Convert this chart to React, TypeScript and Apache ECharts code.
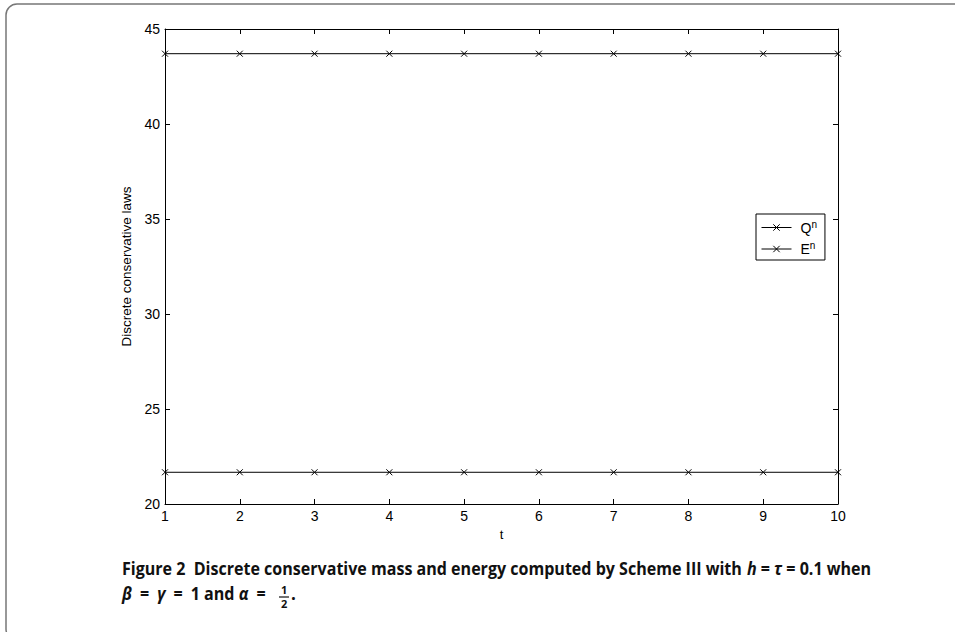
import React, { useEffect, useRef } from "react";
import * as echarts from "echarts";

const tValues = [1, 2, 3, 4, 5, 6, 7, 8, 9, 10];
const massQ = [21.67, 21.67, 21.67, 21.67, 21.67, 21.67, 21.67, 21.67, 21.67, 21.67];
const energyE = [43.7, 43.7, 43.7, 43.7, 43.7, 43.7, 43.7, 43.7, 43.7, 43.7];
const yTicks = [20, 25, 30, 35, 40, 45];

const CROSS = "path://M0,0L10,10M10,0L0,10";
const FONT = "Liberation Sans, Arial, Helvetica, sans-serif";
const CAP = "Open Sans, Noto Sans, sans-serif";
const SP = "\u2002";

export default function App() {
  const ref = useRef<HTMLDivElement>(null);
  useEffect(() => {
    if (!ref.current) return;
    const chart = echarts.init(ref.current, undefined, { renderer: "svg" });
    const mk = (name: string, vals: number[]) => ({
      name,
      type: "line",
      data: tValues.map((t, i) => [t, vals[i]]),
      symbol: CROSS,
      symbolSize: 6,
      showSymbol: true,
      lineStyle: { color: "#000", width: 1 },
      itemStyle: { color: "none", borderColor: "#000", borderWidth: 1 },
      emphasis: { disabled: true },
      z: 3,
    });
    const capRich = {
      i: { fontFamily: CAP, fontWeight: "bold", fontStyle: "italic", fontSize: 17, fill: "#111" },
    };
    chart.setOption({
      animation: false,
      backgroundColor: "#fff",
      grid: { left: 165, right: 117, top: 29, bottom: 128, containLabel: false },
      legend: {
        orient: "vertical",
        left: 756,
        top: 214,
        itemWidth: 30,
        itemHeight: 8,
        itemGap: 6,
        padding: [5, 8, 4, 5],
        borderColor: "#000",
        borderWidth: 1,
        backgroundColor: "#fff",
        lineStyle: { width: 1, color: "#000" },
        itemStyle: { color: "none", borderColor: "#000", borderWidth: 1 },
        data: ["Q", "E"],
        formatter: (n: string) => `{m|${n}}{s|n}`,
        textStyle: {
          rich: {
            m: { fontFamily: FONT, fontSize: 14, color: "#000", padding: [0, 0, 0, 4] },
            s: { fontFamily: FONT, fontSize: 10, color: "#000", verticalAlign: "top", padding: [0, 0, 7, 0] },
          },
        },
      },
      xAxis: [
        {
          type: "value",
          min: 1,
          max: 10,
          interval: 1,
          name: "t",
          nameLocation: "middle",
          nameGap: 21,
          nameTextStyle: { fontFamily: FONT, fontSize: 13, color: "#000" },
          axisLine: { lineStyle: { color: "#000", width: 1 } },
          axisTick: { inside: true, length: 5, lineStyle: { color: "#000" } },
          axisLabel: { fontFamily: FONT, fontSize: 14, color: "#000", margin: 5 },
          splitLine: { show: false },
        },
        {
          type: "value",
          position: "top",
          min: 1,
          max: 10,
          interval: 1,
          axisLine: { lineStyle: { color: "#000", width: 1 } },
          axisTick: { inside: true, length: 5, lineStyle: { color: "#000" } },
          axisLabel: { show: false },
          splitLine: { show: false },
        },
      ],
      yAxis: [
        {
          type: "value",
          min: yTicks[0],
          max: yTicks[yTicks.length - 1],
          interval: 5,
          name: "Discrete conservative laws",
          nameLocation: "middle",
          nameGap: 31,
          nameTextStyle: { fontFamily: FONT, fontSize: 13.5, color: "#000" },
          axisLine: { lineStyle: { color: "#000", width: 1 } },
          axisTick: { inside: true, length: 5, lineStyle: { color: "#000" } },
          axisLabel: { fontFamily: FONT, fontSize: 14, color: "#000", margin: 5 },
          splitLine: { show: false },
        },
        {
          type: "value",
          position: "right",
          min: yTicks[0],
          max: yTicks[yTicks.length - 1],
          interval: 5,
          axisLine: { lineStyle: { color: "#000", width: 1 } },
          axisTick: { inside: true, length: 5, lineStyle: { color: "#000" } },
          axisLabel: { show: false },
          splitLine: { show: false },
        },
      ],
      series: [mk("Q", massQ), mk("E", energyE)],
      graphic: [
        {
          type: "rect",
          shape: { x: 6, y: 4, width: 980, height: 636, r: 11 },
          style: { fill: "none", stroke: "#777", lineWidth: 1.5 },
          silent: true,
          z: -1,
        },
        {
          type: "text",
          x: 122,
          y: 560,
          scaleX: 0.945,
          style: {
            text: `Figure 2  Discrete conservative mass and energy computed by Scheme III with {i|h} = {i|τ} = 0.1 when`,
            fontFamily: CAP,
            fontWeight: "bold",
            fontSize: 17,
            fill: "#111",
            rich: capRich,
          },
        },
        {
          type: "text",
          x: 122,
          y: 585,
          scaleX: 0.945,
          style: {
            text: `{i|β}${SP}=${SP}{i|γ}${SP}=${SP}1 and {i|α}${SP}=${SP}`,
            fontFamily: CAP,
            fontWeight: "bold",
            fontSize: 17,
            fill: "#111",
            rich: capRich,
          },
        },
        {
          type: "text",
          x: 281,
          y: 584,
          style: { text: "1", fontFamily: CAP, fontWeight: "bold", fontSize: 11, fill: "#111" },
        },
        {
          type: "line",
          shape: { x1: 279, y1: 597, x2: 289, y2: 597 },
          style: { stroke: "#111", lineWidth: 1.2 },
        },
        {
          type: "text",
          x: 281,
          y: 598,
          style: { text: "2", fontFamily: CAP, fontWeight: "bold", fontSize: 11, fill: "#111" },
        },
        {
          type: "text",
          x: 291,
          y: 585,
          style: { text: ".", fontFamily: CAP, fontWeight: "bold", fontSize: 17, fill: "#111" },
        },
      ],
    });
    return () => chart.dispose();
  }, []);
  return <div ref={ref} style={{ width: 955, height: 632, position: "absolute", left: 0, top: 0 }} />;
}
